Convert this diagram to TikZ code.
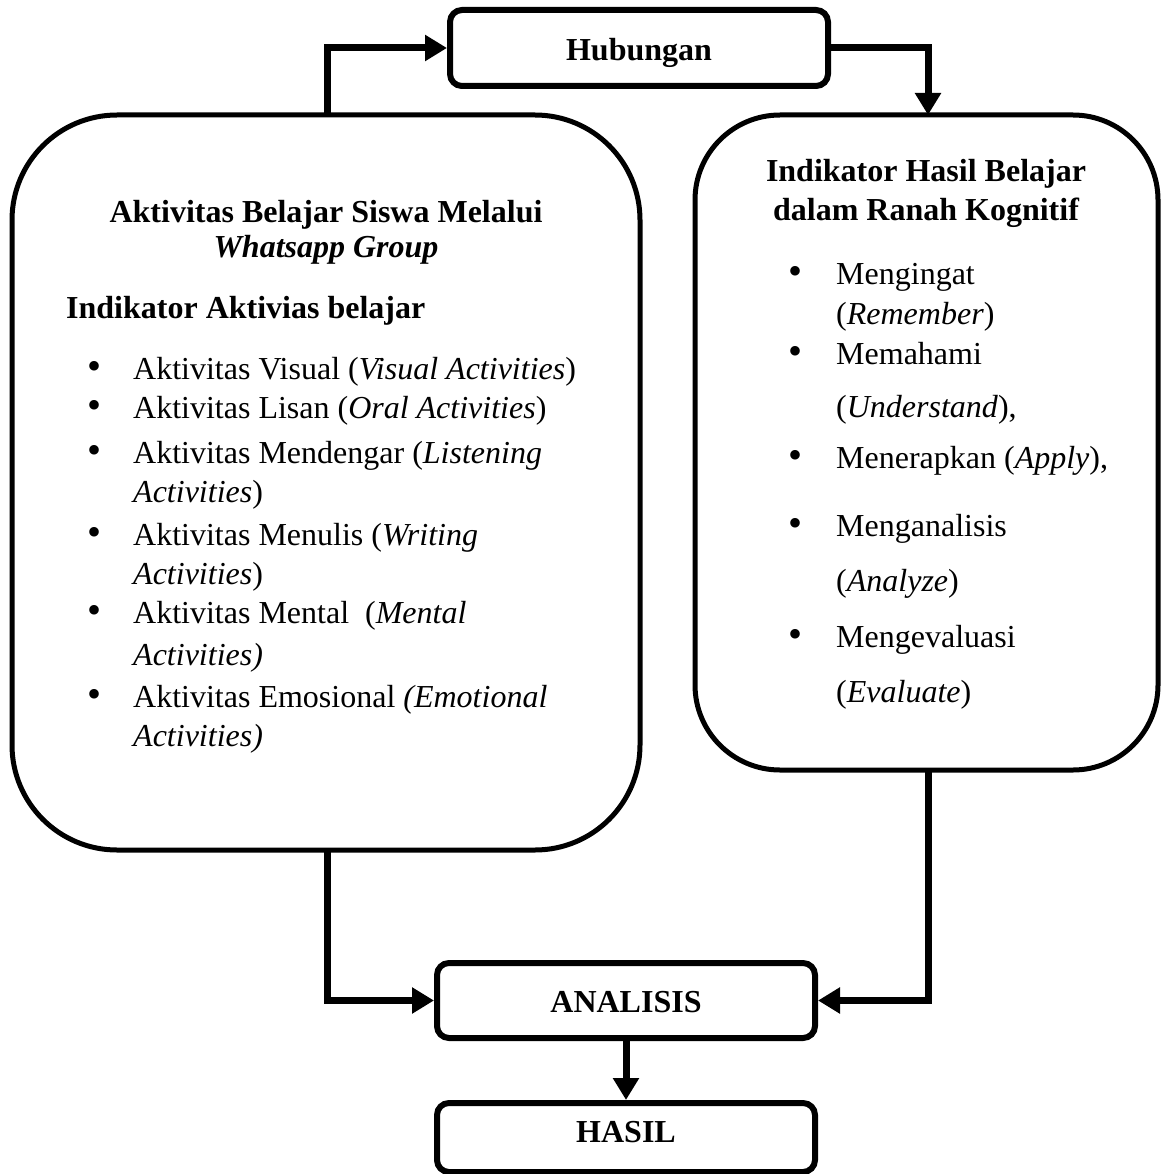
\documentclass[tikz,border=0pt]{standalone}
\usepackage{fontspec}
\setmainfont{Liberation Serif}
\usetikzlibrary{arrows.meta}
\begin{document}
\begin{tikzpicture}[x=1pt,y=-1pt,
  bigbox/.style={draw, line width=5pt, rounded corners=#1, inner sep=0pt},
  smallbox/.style={draw, line width=6pt, rounded corners=12pt, inner sep=0pt, minimum width=378pt},
  conn/.style={line width=7pt, -{Triangle[length=22pt,width=25pt]}},
  txt/.style={anchor=base west, inner sep=0pt, font=\fontsize{32}{38}\selectfont},
  ttl/.style={anchor=base, inner sep=0pt, font=\fontsize{32}{38}\selectfont\bfseries},
  bul/.style={anchor=center, inner sep=0pt, font=\fontsize{40}{40}\selectfont}]
\useasboundingbox (0,0) rectangle (1162,1174);
% boxes
\node[smallbox, minimum height=76pt] (hub) at (639,48) {};
\node[ttl] (hubt) at (639,61) {Hubungan};
\node[bigbox=105pt, minimum width=628pt, minimum height=735pt] (left) at (326,482.5) {};
\node[bigbox=85pt, minimum width=463pt, minimum height=655pt] (right) at (926.5,442.5) {};
\node[smallbox, minimum height=75pt] (ana) at (626,1000.5) {};
\node[ttl] (anat) at (626,1012) {ANALISIS};
\node[smallbox, minimum height=69pt] (has) at (626,1137.5) {};
\node[ttl] (hast) at (626,1142) {HASIL};
% left box text
\node[ttl] (l1) at (326,223) {Aktivitas Belajar Siswa Melalui};
\node[ttl, font=\fontsize{32}{38}\selectfont\bfseries\itshape] (l2) at (326,258) {Whatsapp Group};
\node[txt, font=\fontsize{32}{38}\selectfont\bfseries] (l3) at (66,318) {Indikator Aktivias belajar};
\foreach \y/\n in {379/a,418/b,463/c,545/d,623/e,707/f}
  \node[bul] (bl\n) at (95,\y-9) {•};
\node[txt] (la) at (133,379) {Aktivitas Visual (\textit{Visual Activities})};
\node[txt] (lb) at (133,418) {Aktivitas Lisan (\textit{Oral Activities})};
\node[txt] (lc) at (133,463) {Aktivitas Mendengar (\textit{Listening}};
\node[txt] (lc2) at (133,502) {\textit{Activities})};
\node[txt] (ld) at (133,545) {Aktivitas Menulis (\textit{Writing}};
\node[txt] (ld2) at (133,584) {\textit{Activities})};
\node[txt] (le) at (133,623) {Aktivitas Mental\ \ (\textit{Mental}};
\node[txt] (le2) at (133,665) {\textit{Activities)}};
\node[txt] (lf) at (133,707) {Aktivitas Emosional \textit{(Emotional}};
\node[txt] (lf2) at (133,746) {\textit{Activities)}};
% right box text
\node[ttl] (r1) at (926,182) {Indikator Hasil Belajar};
\node[ttl] (r2) at (926,221) {dalam Ranah Kognitif};
\foreach \y/\n in {284/a,364/b,468/c,536/d,647/e}
  \node[bul] (br\n) at (795,\y-9) {•};
\node[txt] (ra) at (836,284) {Mengingat};
\node[txt] (ra2) at (836,324) {(\textit{Remember})};
\node[txt] (rb) at (836,364) {Memahami};
\node[txt] (rb2) at (836,417) {(\textit{Understand}),};
\node[txt] (rc) at (836,468) {Menerapkan (\textit{Apply}),};
\node[txt] (rd) at (836,536) {Menganalisis};
\node[txt] (rd2) at (836,591) {(\textit{Analyze})};
\node[txt] (re) at (836,647) {Mengevaluasi};
\node[txt] (re2) at (836,702) {(\textit{Evaluate})};
% connector anchors
\coordinate (lt) at (327,115);
\coordinate (lbm) at (327,850);
\coordinate (rt) at (928,115);
\coordinate (rbm) at (928,770);
% connectors
\draw[conn] (lt) |- (hub.west);
\draw[conn] (hub.east) -| (rt);
\draw[conn] (lbm) |- (ana.west);
\draw[conn] (rbm) |- (ana.east);
\draw[conn] (ana.south) -- (has.north);
\end{tikzpicture}
\end{document}
